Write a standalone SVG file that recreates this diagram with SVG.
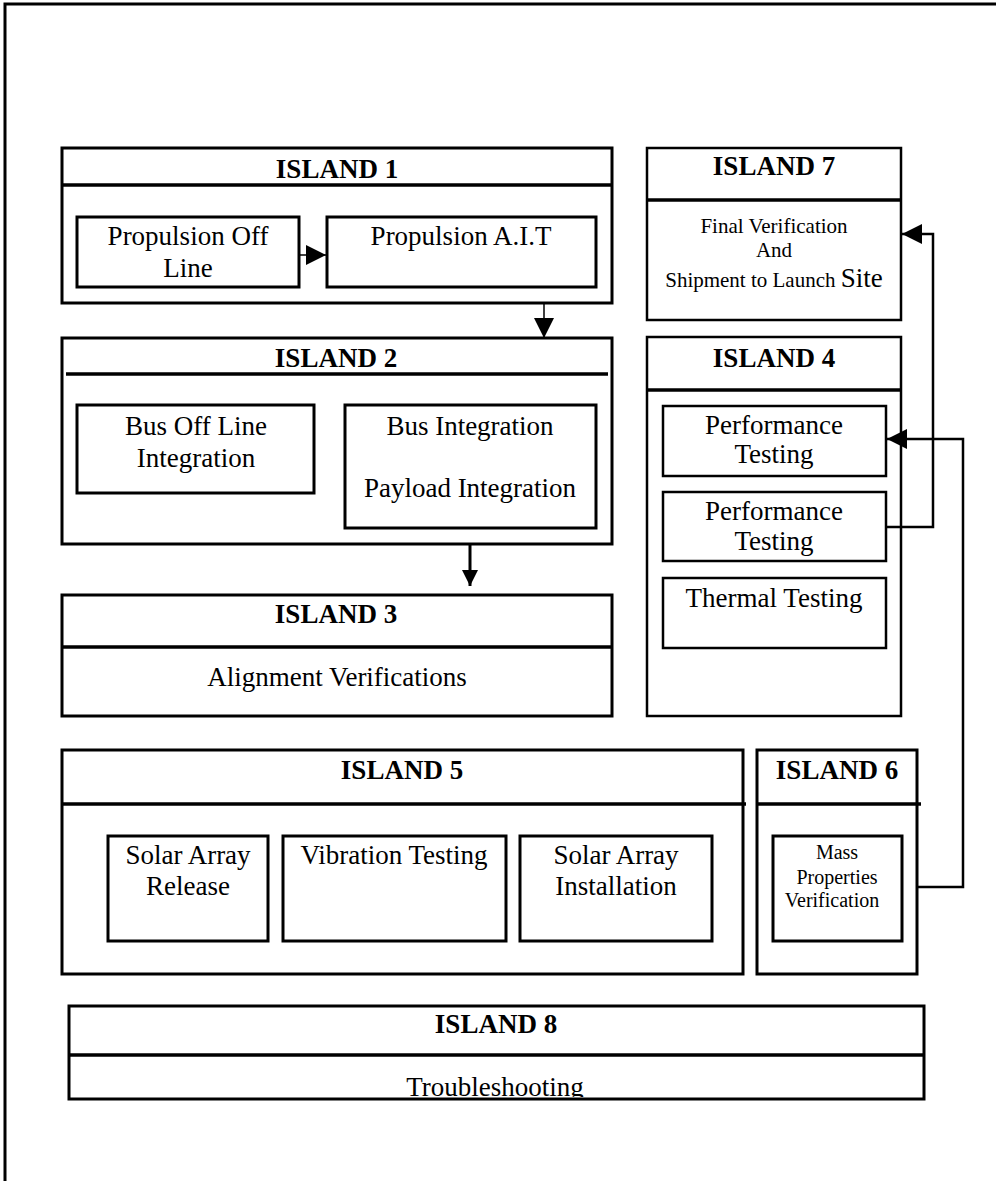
<svg xmlns="http://www.w3.org/2000/svg" width="996" height="1181" viewBox="0 0 996 1181">
<style>
  .box{fill:#fff;stroke:#000;stroke-width:3}
  .thin{fill:#fff;stroke:#000;stroke-width:2.5}
  .sep{stroke:#000;stroke-width:3.5;fill:none}
  .t{font-family:"Liberation Serif","Times New Roman",serif;font-size:27px;text-anchor:middle;fill:#000}
  .h{font-family:"Liberation Serif","Times New Roman",serif;font-size:27px;font-weight:bold;text-anchor:middle;fill:#000}
  .s{font-family:"Liberation Serif","Times New Roman",serif;font-size:21px;text-anchor:middle;fill:#000}
  .m{font-family:"Liberation Serif","Times New Roman",serif;font-size:20px;text-anchor:middle;fill:#000}
  .c{fill:none;stroke:#000;stroke-width:2.5}
</style>
<defs>
  <marker id="ah" markerUnits="userSpaceOnUse" markerWidth="20" markerHeight="20" refX="20" refY="10" orient="auto" viewBox="0 0 20 20">
    <path d="M0,0 L20,10 L0,20 z" fill="#000"/>
  </marker>
  <marker id="ahs" markerUnits="userSpaceOnUse" markerWidth="16" markerHeight="16" refX="16" refY="8" orient="auto" viewBox="0 0 16 16">
    <path d="M0,0 L16,8 L0,16 z" fill="#000"/>
  </marker>
  <clipPath id="clip8"><rect x="69" y="1006" width="855" height="91"/></clipPath>
</defs>
<rect width="996" height="1181" fill="#fff"/>
<path d="M5,1181 V4 H996" fill="none" stroke="#000" stroke-width="3"/>

<g id="island1">
  <rect class="box" x="62" y="148" width="550" height="155"/>
  <line class="sep" x1="62" y1="185" x2="612" y2="185"/>
  <text class="h" x="337" y="178">ISLAND 1</text>
  <g id="propulsion-off-line">
    <rect class="box" x="77" y="217" width="222" height="70"/>
    <text class="t" x="188" y="245">Propulsion Off</text>
    <text class="t" x="188" y="277">Line</text>
  </g>
  <g id="propulsion-ait">
    <rect class="box" x="327" y="217" width="269" height="70"/>
    <text class="t" x="461" y="245">Propulsion A.I.T</text>
  </g>
</g>

<g id="island2">
  <rect class="box" x="62" y="338" width="550" height="206"/>
  <line class="sep" x1="66" y1="374" x2="608" y2="374"/>
  <text class="h" x="336" y="367">ISLAND 2</text>
  <g id="bus-off-line">
    <rect class="box" x="77" y="405" width="237" height="88"/>
    <text class="t" x="196" y="435">Bus Off Line</text>
    <text class="t" x="196" y="467">Integration</text>
  </g>
  <g id="bus-payload-integration">
    <rect class="box" x="345" y="405" width="251" height="123"/>
    <text class="t" x="470" y="435">Bus Integration</text>
    <text class="t" x="470" y="497">Payload Integration</text>
  </g>
</g>

<g id="island3">
  <rect class="box" x="62" y="595" width="550" height="121"/>
  <line class="sep" x1="62" y1="647" x2="612" y2="647"/>
  <text class="h" x="336" y="623">ISLAND 3</text>
  <text class="t" x="337" y="686">Alignment Verifications</text>
</g>

<g id="island7">
  <rect class="thin" x="647" y="148" width="254" height="172"/>
  <line class="sep" x1="647" y1="200" x2="901" y2="200"/>
  <text class="h" x="774" y="175">ISLAND 7</text>
  <text class="s" x="774" y="233">Final Verification</text>
  <text class="s" x="774" y="257">And</text>
  <text class="s" x="774" y="287">Shipment to Launch <tspan font-size="27">Site</tspan></text>
</g>

<g id="island4">
  <rect class="thin" x="647" y="337" width="254" height="379"/>
  <line class="sep" x1="647" y1="390" x2="901" y2="390"/>
  <text class="h" x="774" y="367">ISLAND 4</text>
  <g id="performance-testing-1">
    <rect class="thin" x="663" y="406" width="223" height="70"/>
    <text class="t" x="774" y="434">Performance</text>
    <text class="t" x="774" y="463">Testing</text>
  </g>
  <g id="performance-testing-2">
    <rect class="thin" x="663" y="492" width="223" height="69"/>
    <text class="t" x="774" y="520">Performance</text>
    <text class="t" x="774" y="550">Testing</text>
  </g>
  <g id="thermal-testing">
    <rect class="thin" x="663" y="578" width="223" height="70"/>
    <text class="t" x="774" y="607">Thermal Testing</text>
  </g>
</g>

<g id="island5">
  <rect class="box" x="62" y="750" width="681" height="224"/>
  <line class="sep" x1="62" y1="804" x2="746" y2="804"/>
  <text class="h" x="402" y="779">ISLAND 5</text>
  <g id="solar-array-release">
    <rect class="box" x="108" y="836" width="160" height="105"/>
    <text class="t" x="188" y="864">Solar Array</text>
    <text class="t" x="188" y="895">Release</text>
  </g>
  <g id="vibration-testing">
    <rect class="box" x="283" y="836" width="223" height="105"/>
    <text class="t" x="394" y="864">Vibration Testing</text>
  </g>
  <g id="solar-array-installation">
    <rect class="box" x="520" y="836" width="192" height="105"/>
    <text class="t" x="616" y="864">Solar Array</text>
    <text class="t" x="616" y="895">Installation</text>
  </g>
</g>

<g id="island6">
  <rect class="box" x="757" y="750" width="160" height="224"/>
  <line class="sep" x1="757" y1="804" x2="921" y2="804"/>
  <text class="h" x="837" y="779">ISLAND 6</text>
  <g id="mass-properties">
    <rect class="box" x="773" y="836" width="129" height="105"/>
    <text class="m" x="837" y="859">Mass</text>
    <text class="m" x="837" y="884">Properties</text>
    <text class="m" x="832" y="907">Verification</text>
  </g>
</g>

<g id="island8">
  <rect class="box" x="69" y="1006" width="855" height="93"/>
  <line class="sep" x1="69" y1="1055" x2="924" y2="1055"/>
  <text class="h" x="496" y="1033">ISLAND 8</text>
  <text class="t" x="495" y="1096" clip-path="url(#clip8)">Troubleshooting</text>
</g>

<g id="connectors">
  <line x1="299" y1="255" x2="326" y2="255" stroke="#000" stroke-width="1.5" marker-end="url(#ah)"/>
  <line x1="544" y1="303" x2="544" y2="338" stroke="#000" stroke-width="1.5" marker-end="url(#ah)"/>
  <line x1="470" y1="545" x2="470" y2="586" stroke="#000" stroke-width="3" marker-end="url(#ahs)"/>
  <path class="c" d="M886,527 H933 V234 H902" marker-end="url(#ah)"/>
  <path class="c" d="M918,887 H963 V439 H887" marker-end="url(#ah)"/>
</g>
</svg>
